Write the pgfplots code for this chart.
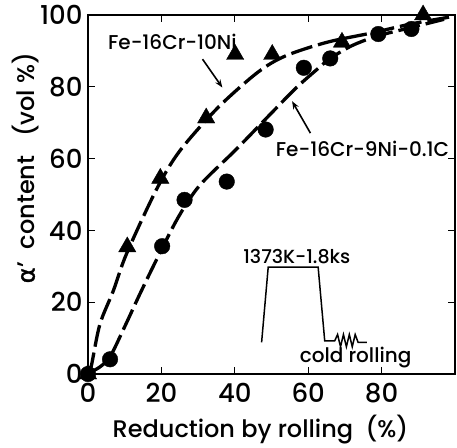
\documentclass[border=0pt]{standalone}
\usepackage{pgfplots}
\pgfplotsset{compat=1.18}
\usepackage{fontspec}
\setmainfont{Poppins Medium}
\newfontfamily\greekfont{DejaVu Sans}[FakeBold=1.5]
\usetikzlibrary{arrows.meta}
\begin{document}
\begin{tikzpicture}
\begin{axis}[
  width=367pt, height=359pt, scale only axis,
  xmin=0, xmax=100, ymin=0, ymax=100,
  clip=false,
  xtick={0,20,40,60,80}, ytick={0,20,40,60,80,100},
  axis line style={line width=1.6pt},
  major tick length=7pt,
  tick style={line width=1.2pt, black},
  /pgf/number format/assume math mode=true,
  ticklabel style={font=\fontsize{26}{26}\selectfont},
  xticklabel style={yshift=-6pt},
  yticklabel style={xshift=-2pt},
  xlabel={Reduction by rolling \ (\%)},
  ylabel={{\greekfont α}' \ content \ \ (vol \%)},
  label style={font=\fontsize{24}{24}\selectfont},
  xlabel style={at={(axis description cs:0.47,-0.156)}, anchor=center},
  ylabel style={at={(axis description cs:-0.17,0.574)}, anchor=center},
]
% frame of the whole picture (blank margin as in the reference)
\path (axis description cs:-0.2398,-0.2006) rectangle (axis description cs:1.0054,1.0418);
% fitted curves
\addplot[black, line width=3.3pt, smooth, dash pattern=on 22pt off 6pt] coordinates {
 (0.3,0) (1,2.7) (3.25,13.9) (6.9,23.2) (10.5,33.5) (18.6,51.3) (24.9,62) (35.3,74.1)
 (46.2,84) (53.8,88.6) (65.1,92.4) (77.3,95) (88,97.5) (99,99.5)};
\addplot[black, line width=3.3pt, smooth, dash pattern=on 22pt off 6pt] coordinates {
 (0.5,0.5) (3,1.8) (6,4.8) (10,13.2) (14,22) (18.6,31.7) (24.5,43.5) (30.4,52.5) (40.3,62.5)
 (49.8,72.5) (56.6,79.6) (62,84.5) (66,87.9) (72,91.5) (79,94.2) (88,96.5) (97,98.8)};
% Fe-16Cr-10Ni
\addplot[only marks, mark=triangle*, mark size=10pt, black] coordinates {
 (0,0) (10.7,35.4) (19.7,54.5) (32.2,71.3) (40.1,89) (50.2,89) (69.2,92.4) (91.3,100)};
% Fe-16Cr-9Ni-0.1C
\addplot[only marks, mark=*, mark size=7.8pt, black] coordinates {
 (0,0) (6,4.1) (20.2,35.6) (26.3,48.5) (37.8,53.6) (48.4,68.1) (58.8,85.3) (66,87.9)
 (79.1,94.7) (88.1,96.1)};
% annotations
\node[font=\fontsize{20}{20}\selectfont] at (axis cs:23,92.4) {Fe-16Cr-10Ni};
\draw[line width=1.6pt, -{Stealth[length=8pt,width=6pt]}] (axis cs:31.2,87.7) -- (axis cs:36.6,79.8);
\node[font=\fontsize{20}{20}\selectfont] at (axis cs:74.8,62.7) {Fe-16Cr-9Ni-0.1C};
\draw[line width=1.6pt, -{Stealth[length=8pt,width=6pt]}] (axis cs:60.6,67.1) -- (axis cs:55.6,76);
% heat-treatment schematic
\draw[line width=1.5pt] (axis cs:47.3,8.8) -- (axis cs:49.1,29.8) -- (axis cs:62.7,29.8)
  -- (axis cs:64.5,9.2) -- (axis cs:67.2,9.2) -- (axis cs:68.0,11) -- (axis cs:68.8,7.6)
  -- (axis cs:69.6,11) -- (axis cs:70.4,7.6) -- (axis cs:71.2,11) -- (axis cs:72.0,7.6)
  -- (axis cs:72.8,11) -- (axis cs:73.6,8.8) -- (axis cs:76.0,8.8);
\node[font=\fontsize{19}{19}\selectfont] at (axis cs:56.9,32.8) {1373K-1.8ks};
\node[font=\fontsize{20}{20}\selectfont] at (axis cs:72.9,4.5) {cold rolling};
\end{axis}
\end{tikzpicture}
\end{document}
